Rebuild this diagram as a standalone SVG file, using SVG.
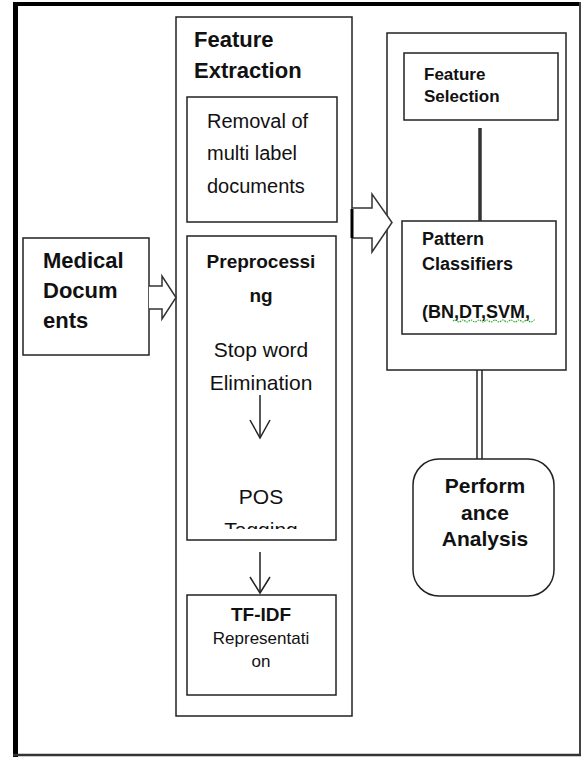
<svg xmlns="http://www.w3.org/2000/svg" width="584" height="757" viewBox="0 0 584 757">
<style>
.box{fill:#fff;stroke:#222;stroke-width:1.5}
.t{font-family:"Liberation Sans",Arial,sans-serif;fill:#111}
.b{font-weight:bold}
.ln{stroke:#222;stroke-width:1.5;fill:none}
.hollow{fill:#fff;stroke:#333;stroke-width:1.5;stroke-linejoin:miter}
</style>
<defs>
<clipPath id="clipPre"><rect x="188" y="237" width="148" height="292"/></clipPath>
</defs>
<rect x="0" y="0" width="584" height="757" fill="#fff"/>
<g id="frame">
<line x1="15.5" y1="2" x2="15.5" y2="757" stroke="#000" stroke-width="5"/>
<line x1="13" y1="4" x2="581" y2="4" stroke="#000" stroke-width="4"/>
<line x1="580" y1="2" x2="580" y2="756" stroke="#444" stroke-width="2"/>
<line x1="13" y1="755" x2="581" y2="755" stroke="#333" stroke-width="2.5"/>
</g>
<g id="feature-extraction">
<rect class="box" x="176" y="17" width="176" height="699"/>
<text class="t b" x="194" y="47" font-size="22">Feature</text>
<text class="t b" x="194" y="78" font-size="22">Extraction</text>
</g>
<g id="removal">
<rect class="box" x="187" y="97" width="150" height="125"/>
<text class="t" x="207" y="128" font-size="20">Removal of</text>
<text class="t" x="207" y="160" font-size="20">multi label</text>
<text class="t" x="207" y="193" font-size="20">documents</text>
</g>
<g id="preprocessing">
<rect class="box" x="187" y="236" width="149" height="304"/>
<text class="t b" x="261" y="268" font-size="19" text-anchor="middle">Preprocessi</text>
<text class="t b" x="261" y="302" font-size="19" text-anchor="middle">ng</text>
<text class="t" x="261" y="357" font-size="21" text-anchor="middle">Stop word</text>
<text class="t" x="261" y="390" font-size="21" text-anchor="middle">Elimination</text>
<text class="t" x="261" y="504" font-size="21" text-anchor="middle">POS</text>
<text class="t" x="261" y="537" font-size="21" text-anchor="middle" clip-path="url(#clipPre)">Tagging</text>
</g>
<g id="tfidf">
<rect class="box" x="187" y="595" width="149" height="100"/>
<text class="t b" x="261" y="621" font-size="19" text-anchor="middle">TF-IDF</text>
<text class="t" x="261" y="644" font-size="17" text-anchor="middle">Representati</text>
<text class="t" x="261" y="667" font-size="17" text-anchor="middle">on</text>
</g>
<g id="medical">
<rect class="box" x="23" y="238" width="126" height="117"/>
<text class="t b" x="43" y="268" font-size="22">Medical</text>
<text class="t b" x="43" y="298" font-size="22">Docum</text>
<text class="t b" x="43" y="328" font-size="22">ents</text>
</g>
<g id="classification">
<rect class="box" x="387" y="33" width="179" height="337"/>
</g>
<g id="feature-selection">
<rect class="box" x="404" y="53" width="154" height="67"/>
<text class="t b" x="424" y="80" font-size="17">Feature</text>
<text class="t b" x="424" y="102" font-size="17">Selection</text>
</g>
<g id="pattern-classifiers">
<rect class="box" x="402" y="221" width="154" height="113"/>
<text class="t b" x="422" y="245" font-size="18">Pattern</text>
<text class="t b" x="422" y="270" font-size="18">Classifiers</text>
<text class="t b" x="422" y="318" font-size="18">(BN,DT,SVM,</text>
<path d="M453 321 q2 -2 4 0 t4 0 t4 0 t4 0 t4 0 t4 0 t4 0 t4 0 t4 0 t4 0 t4 0 t4 0 t4 0 t4 0 t4 0 t4 0 t4 0 t4 0 t4 0 t4 0 t2 0" fill="none" stroke="#3a3" stroke-width="1.2" stroke-dasharray="1.5 1"/>
</g>
<g id="performance">
<rect class="box" x="413" y="459" width="141" height="137" rx="26" ry="26"/>
<text class="t b" x="485" y="493" font-size="21" text-anchor="middle">Perform</text>
<text class="t b" x="485" y="520" font-size="21" text-anchor="middle">ance</text>
<text class="t b" x="485" y="546" font-size="21" text-anchor="middle">Analysis</text>
</g>
<g id="connectors">
<path class="hollow" d="M149 286 H162 V276 L176 297.5 L162 319 V309 H149"/>
<path class="hollow" d="M352 208 H372 V194 L392 222.5 L372 252 V238 H352"/>
<line x1="352" y1="209" x2="352" y2="238" stroke="#000" stroke-width="3"/>
<line x1="480" y1="128" x2="480" y2="221" stroke="#333" stroke-width="3.5"/>
<line class="ln" x1="477" y1="370" x2="477" y2="459"/>
<line class="ln" x1="482" y1="370" x2="482" y2="459"/>
<line class="ln" x1="260" y1="395" x2="260" y2="438"/>
<polyline class="ln" points="250,420 260,438 270,420"/>
<line class="ln" x1="260" y1="552" x2="260" y2="593"/>
<polyline class="ln" points="250,577 260,593 270,577"/>
</g>
</svg>
